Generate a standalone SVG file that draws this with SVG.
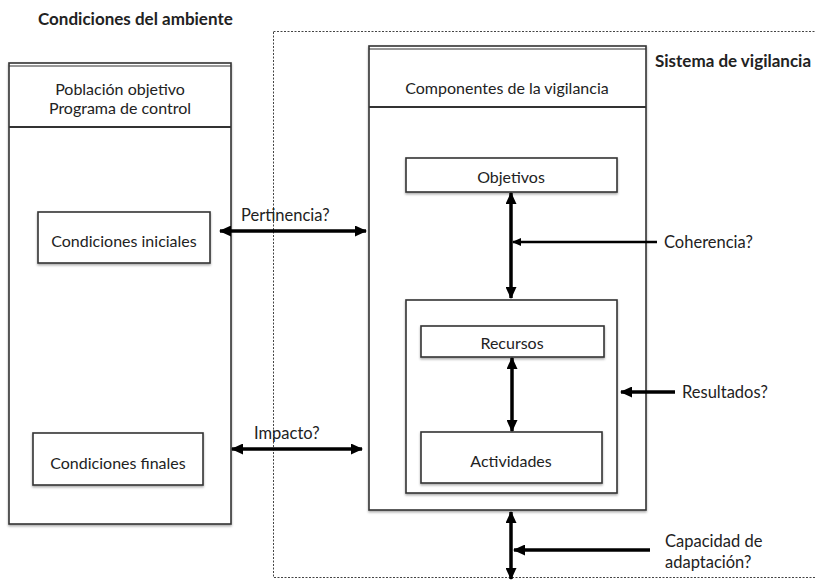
<svg xmlns="http://www.w3.org/2000/svg" width="816" height="580" viewBox="0 0 816 580">
<style>
text{font-family:Lato,"Open Sans","Liberation Sans",sans-serif;fill:#222;text-anchor:middle;dominant-baseline:central}
.t{font-size:16px}
.b{font-size:17px;font-weight:bold;text-anchor:start}
.box{fill:#fff;stroke:#333;stroke-width:1.6}
.sh{filter:url(#ds)}
.ar{stroke:#000;stroke-width:3.5;fill:none}
.ar2{stroke:#000;stroke-width:2.5;fill:none}
.lbl{font-size:16.5px;text-anchor:start}
</style>
<defs>
<filter id="ds" x="-10%" y="-10%" width="120%" height="130%">
<feDropShadow dx="0" dy="1.5" stdDeviation="1.2" flood-color="#000" flood-opacity="0.35"/>
</filter>
<marker id="h" markerUnits="userSpaceOnUse" markerWidth="12" markerHeight="11" refX="11" refY="5.5" orient="auto-start-reverse">
<path d="M0,0 L12,5.5 L0,11 Z" fill="#000"/>
</marker>
<marker id="hs" markerUnits="userSpaceOnUse" markerWidth="9" markerHeight="8" refX="8" refY="4" orient="auto-start-reverse">
<path d="M0,0 L9,4 L0,8 Z" fill="#000"/>
</marker>
</defs>
<rect width="816" height="580" fill="#fff"/>

<g id="ambiente">
<text class="b" x="38" y="18">Condiciones del ambiente</text>
</g>

<g id="sistema">
<rect x="273.5" y="31.5" width="570" height="546" fill="none" stroke="#444" stroke-width="1" stroke-dasharray="2,1.5"/>
<text class="b" x="655" y="60">Sistema de vigilancia</text>
</g>

<g id="poblacion">
<rect class="box sh" x="9" y="63" width="222" height="461"/>
<line x1="9" y1="66" x2="231" y2="66" stroke="#333" stroke-width="1.2"/>
<line x1="9" y1="127" x2="231" y2="127" stroke="#333" stroke-width="2"/>
<text class="t" x="120" y="88">Población objetivo</text>
<text class="t" x="120" y="107">Programa de control</text>
</g>

<g id="cond-iniciales">
<rect class="box sh" x="38" y="212" width="172" height="51"/>
<text class="t" x="124" y="240">Condiciones iniciales</text>
</g>

<g id="cond-finales">
<rect class="box sh" x="33" y="433" width="170" height="52"/>
<text class="t" x="118" y="462">Condiciones finales</text>
</g>

<g id="componentes">
<rect class="box sh" x="369" y="46" width="277" height="464"/>
<line x1="369" y1="49" x2="646" y2="49" stroke="#333" stroke-width="1.2"/>
<line x1="369" y1="107" x2="646" y2="107" stroke="#333" stroke-width="2"/>
<text class="t" x="507" y="87">Componentes de la vigilancia</text>
</g>

<g id="objetivos">
<rect class="box sh" x="406" y="158" width="211" height="34"/>
<text class="t" x="511" y="176">Objetivos</text>
</g>

<g id="ejecucion">
<rect class="box sh" x="406" y="300" width="211" height="193"/>
</g>

<g id="recursos">
<rect class="box sh" x="421" y="326" width="183" height="31"/>
<text class="t" x="512" y="342">Recursos</text>
</g>

<g id="actividades">
<rect class="box sh" x="421" y="432" width="181" height="51"/>
<text class="t" x="511" y="460">Actividades</text>
</g>

<g id="connectors">
<line class="ar" x1="220" y1="231" x2="366" y2="231" marker-start="url(#h)" marker-end="url(#h)"/>
<line class="ar" x1="232" y1="449" x2="362" y2="449" marker-start="url(#h)" marker-end="url(#h)"/>
<line class="ar" x1="511" y1="193" x2="511" y2="298" marker-start="url(#h)" marker-end="url(#h)"/>
<line class="ar2" x1="657" y1="242" x2="513" y2="242" marker-end="url(#hs)"/>
<line class="ar" x1="512" y1="358" x2="512" y2="431" marker-start="url(#h)" marker-end="url(#h)"/>
<line class="ar" x1="675" y1="392" x2="621" y2="392" marker-end="url(#h)"/>
<line class="ar" x1="511" y1="512" x2="511" y2="579" marker-start="url(#h)" marker-end="url(#h)"/>
<line class="ar" x1="650" y1="550" x2="514" y2="550" marker-end="url(#h)"/>
<text class="lbl" x="241" y="215">Pertinencia?</text>
<text class="lbl" x="254" y="433">Impacto?</text>
<text class="lbl" x="664" y="242">Coherencia?</text>
<text class="lbl" x="682" y="392">Resultados?</text>
<text class="lbl" x="665" y="541">Capacidad de</text>
<text class="lbl" x="665" y="562">adaptación?</text>
</g>
</svg>
